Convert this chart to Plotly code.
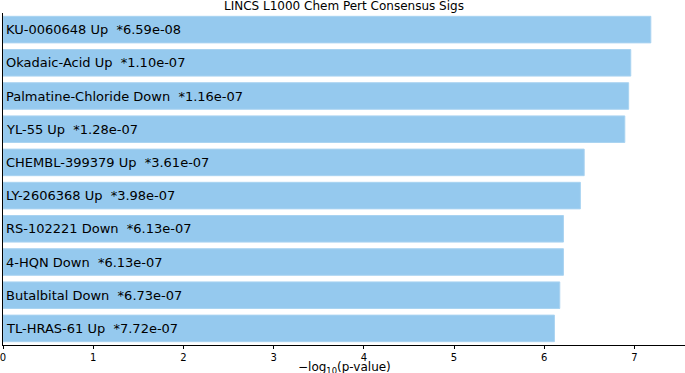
import numpy as np
import plotly.graph_objects as go

terms = ["KU-0060648 Up", "Okadaic-Acid Up", "Palmatine-Chloride Down", "YL-55 Up",
         "CHEMBL-399379 Up", "LY-2606368 Up", "RS-102221 Down", "4-HQN Down",
         "Butalbital Down", "TL-HRAS-61 Up"]
pvals = [6.59e-08, 1.10e-07, 1.16e-07, 1.28e-07, 3.61e-07, 3.98e-07, 6.13e-07,
         6.13e-07, 6.73e-07, 7.72e-07]
pval_labels = ["6.59e-08", "1.10e-07", "1.16e-07", "1.28e-07", "3.61e-07", "3.98e-07",
               "6.13e-07", "6.13e-07", "6.73e-07", "7.72e-07"]
tick_vals = [0, 1, 2, 3, 4, 5, 6, 7]

scores = [-np.log10(p) for p in pvals]
ypos = list(range(len(terms)))

fig = go.Figure()
fig.add_trace(go.Bar(
    x=scores, y=ypos, orientation="h", width=0.8,
    marker=dict(color="#95c9ee", line=dict(color="#a9d3f1", width=1)),
    hoverinfo="x",
))
for yi, t, pl in zip(ypos, terms, pval_labels):
    fig.add_annotation(x=0, y=yi, text=f"{t}  *{pl}", xanchor="left", yanchor="middle",
                       showarrow=False, xshift=1,
                       font=dict(family="DejaVu Sans", size=13, color="black"))

fig.add_annotation(x=0.5, y=1, xref="paper", yref="paper", xanchor="center",
                   yanchor="bottom", showarrow=False, yshift=-2,
                   text="LINCS L1000 Chem Pert Consensus Sigs",
                   font=dict(family="DejaVu Sans", size=12, color="black"))
fig.add_annotation(x=0.5, y=0, xref="paper", yref="paper", xanchor="center",
                   yanchor="top", showarrow=False, yshift=-13,
                   text="−log<sub>10</sub>(p-value)",
                   font=dict(family="DejaVu Sans", size=12, color="black"))

fig.update_layout(
    width=685, height=373,
    margin=dict(l=3, r=0, t=13, b=28),
    plot_bgcolor="white", paper_bgcolor="white",
    showlegend=False,
    bargap=0.2,
)
fig.update_xaxes(range=[0, 7.56], tickvals=tick_vals, ticks="outside", ticklen=3,
                 tickcolor="black", showline=True, linecolor="black", linewidth=1,
                 showgrid=False, zeroline=False, automargin=False,
                 ticklabeloverflow="allow",
                 tickfont=dict(family="DejaVu Sans", size=10, color="black"))
fig.update_yaxes(range=[9.5, -0.5], showticklabels=False, ticks="", showline=True,
                 linecolor="black", linewidth=1, showgrid=False, zeroline=False,
                 automargin=False)

fig.write_html("out.html", config={"displayModeBar": False},
               post_script="document.body.style.margin='0';document.body.style.padding='0';document.body.style.overflow='hidden';")
